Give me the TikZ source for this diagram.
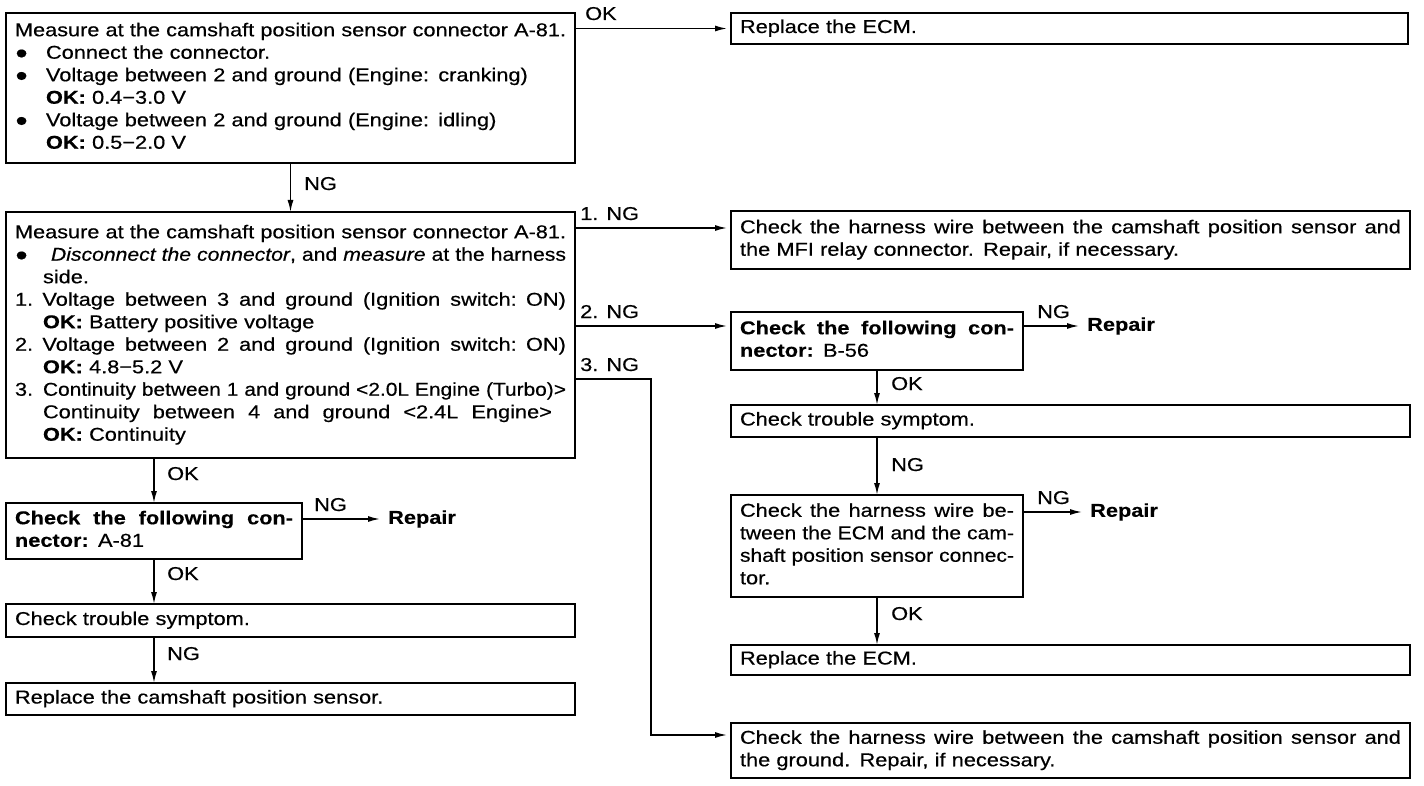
\documentclass[tikz,border=0pt]{standalone}
\usepackage{fontspec}
\usepackage{graphicx}
\setmainfont{Liberation Sans}[FakeStretch=1.17,
  UprightFeatures={FakeBold=0.5}, ItalicFeatures={FakeBold=0.5},
  BoldFeatures={FakeBold=0.3}]
\usetikzlibrary{arrows.meta}
\newcommand{\fsz}{\fontsize{18.6}{22.5}\selectfont}
\newcommand{\jline}[2]{\sbox0{#2}\ifdim\wd0>#1\relax\resizebox{#1}{\height}{#2}\else\makebox[#1][s]{\spaceskip=.3333em plus 3em\relax#2}\fi}
\newcommand{\bul}[1]{\makebox[#1][l]{●}}
\begin{document}
\begin{tikzpicture}[x=1pt,y=-1pt,
 box/.style={draw, line width=2pt, anchor=north west, inner xsep=9pt, inner ysep=0pt, align=left, font=\fsz, outer sep=0pt},
 conn/.style={line width=1.5pt},
 arr/.style={conn, -{Latex[length=12pt,width=6pt]}},
 harr/.style={arr, shorten >=4pt},
 lbl/.style={font=\fsz, inner sep=0pt, anchor=base west},
 rep/.style={font=\fsz\bfseries, inner sep=0pt, anchor=west}]
\useasboundingbox (0,0) rectangle (1424,786);

% ---------- left column ----------
\node[box, minimum width=569pt, text width=551pt, minimum height=150pt] (A) at (6,13)
{\strut\jline{551pt}{Measure at the camshaft position sensor connector A-81.}\\
\bul{31pt}Connect the connector.\\
\bul{31pt}Voltage between 2 and ground (Engine: cranking)\\
\hspace*{31pt}\textbf{OK:} 0.4−3.0 V\\
\bul{31pt}Voltage between 2 and ground (Engine: idling)\\
\hspace*{31pt}\textbf{OK:} 0.5−2.0 V\strut};

\node[box, minimum width=569pt, text width=551pt, minimum height=246pt] (C) at (6,212)
{\strut\jline{551pt}{Measure at the camshaft position sensor connector A-81.}\\
\bul{36pt}\jline{515pt}{\textit{Disconnect the connector}, and \textit{measure} at the harness}\\
\hspace*{28pt}side.\\
\jline{551pt}{1. Voltage between 3 and ground (Ignition switch: ON)}\\
\hspace*{28pt}\textbf{OK:} Battery positive voltage\\
\jline{551pt}{2. Voltage between 2 and ground (Ignition switch: ON)}\\
\hspace*{28pt}\textbf{OK:} 4.8−5.2 V\\
\makebox[28pt][l]{3.}\jline{523pt}{Continuity between 1 and ground <2.0L Engine (Turbo)>}\\
\hspace*{28pt}\jline{509pt}{Continuity between 4 and ground <2.4L Engine>}\\
\hspace*{28pt}\textbf{OK:} Continuity\strut};

\node[box, minimum width=296pt, text width=278pt, minimum height=56pt] (I) at (6,503)
{\strut\jline{278pt}{\bfseries Check the following con-}\\
\textbf{nector:} A-81\strut};

\node[box, minimum width=569pt, text width=551pt, minimum height=33pt] (J) at (6,604)
{\strut Check trouble symptom.\strut};

\node[box, minimum width=569pt, text width=551pt, minimum height=32pt] (L) at (6,683)
{\strut Replace the camshaft position sensor.\strut};

% ---------- right column ----------
\node[box, minimum width=677pt, text width=659pt, minimum height=31pt] (B) at (731,13)
{\strut Replace the ECM.\strut};

\node[box, minimum width=679pt, text width=661pt, minimum height=58pt] (D) at (731,211)
{\strut\jline{661pt}{Check the harness wire between the camshaft position sensor and}\\
the MFI relay connector. Repair, if necessary.\strut};

\node[box, minimum width=292pt, text width=274pt, minimum height=58pt] (E) at (731,312)
{\strut\jline{274pt}{\bfseries Check the following con-}\\
\textbf{nector:} B-56\strut};

\node[box, minimum width=679pt, text width=661pt, minimum height=32pt] (F) at (731,405)
{\strut Check trouble symptom.\strut};

\node[box, minimum width=292pt, text width=274pt, minimum height=102pt] (G) at (731,495)
{\strut\jline{274pt}{Check the harness wire be-}\\
\jline{274pt}{tween the ECM and the cam-}\\
\jline{274pt}{shaft position sensor connec-}\\
tor.\strut};

\node[box, minimum width=679pt, text width=661pt, minimum height=30pt] (H) at (731,645)
{\strut Replace the ECM.\strut};

\node[box, minimum width=679pt, text width=661pt, minimum height=55pt] (K) at (731,723)
{\strut\jline{661pt}{Check the harness wire between the camshaft position sensor and}\\
the ground. Repair, if necessary.\strut};

% Repair targets
\node[rep] (R1) at (388,519) {Repair};
\node[rep] (R2) at (1087,326) {Repair};
\node[rep] (R3) at (1090,512) {Repair};

% ---------- connectors ----------
\draw[harr] (A.east |- B.west) -- (B.west);
\node[lbl] (lOK0) at (585,20) {OK};

\draw[arr] (A.south) -- (C.north);
\node[lbl] (lNG0) at (304,190) {NG};

\coordinate (n1) at ([yshift=-16pt]C.north east);
\draw[harr] (n1) -- (n1 -| D.west);
\node[lbl] (l1) at (580,220) {1. NG};

\coordinate (n2) at ([yshift=-114pt]C.north east);
\draw[harr] (n2) -- (n2 -| E.west);
\node[lbl] (l2) at (580,318) {2. NG};

\coordinate (n3) at ([yshift=-167pt]C.north east);
\coordinate (n3b) at (651,379);
\draw[harr] (n3) -- (n3b) |- ([yshift=15.5pt]K.west);
\node[lbl] (l3) at (580,371) {3. NG};

\coordinate (e1) at ([yshift=-14pt]E.north east);
\draw[arr, shorten >=8pt] (e1) -- (e1 -| R2.west);
\node[lbl] (lNGe) at (1037,318) {NG};

\coordinate (g1) at ([yshift=-17pt]G.north east);
\draw[arr, shorten >=8pt] (g1) -- (g1 -| R3.west);
\node[lbl] (lNGg) at (1037,504) {NG};

\coordinate (i1) at ([yshift=-16pt]I.north east);
\draw[arr, shorten >=8pt] (i1) -- (i1 -| R1.west);
\node[lbl] (lNGi) at (314,511) {NG};

\draw[arr] (I.north |- C.south) -- (I.north);
\node[lbl] (lOKc) at (167,480) {OK};
\draw[arr] (I.south) -- (I.south |- J.north);
\node[lbl] (lOKi) at (167,580) {OK};
\draw[arr] (I.south |- J.south) -- (I.south |- L.north);
\node[lbl] (lNGj) at (167,660) {NG};

\draw[arr] (E.south) -- (E.south |- F.north);
\node[lbl] (lOKe) at (891,390) {OK};
\draw[arr] (G.north |- F.south) -- (G.north);
\node[lbl] (lNGf) at (891,471) {NG};
\draw[arr] (G.south) -- (G.south |- H.north);
\node[lbl] (lOKg) at (891,620) {OK};
\end{tikzpicture}
\end{document}
